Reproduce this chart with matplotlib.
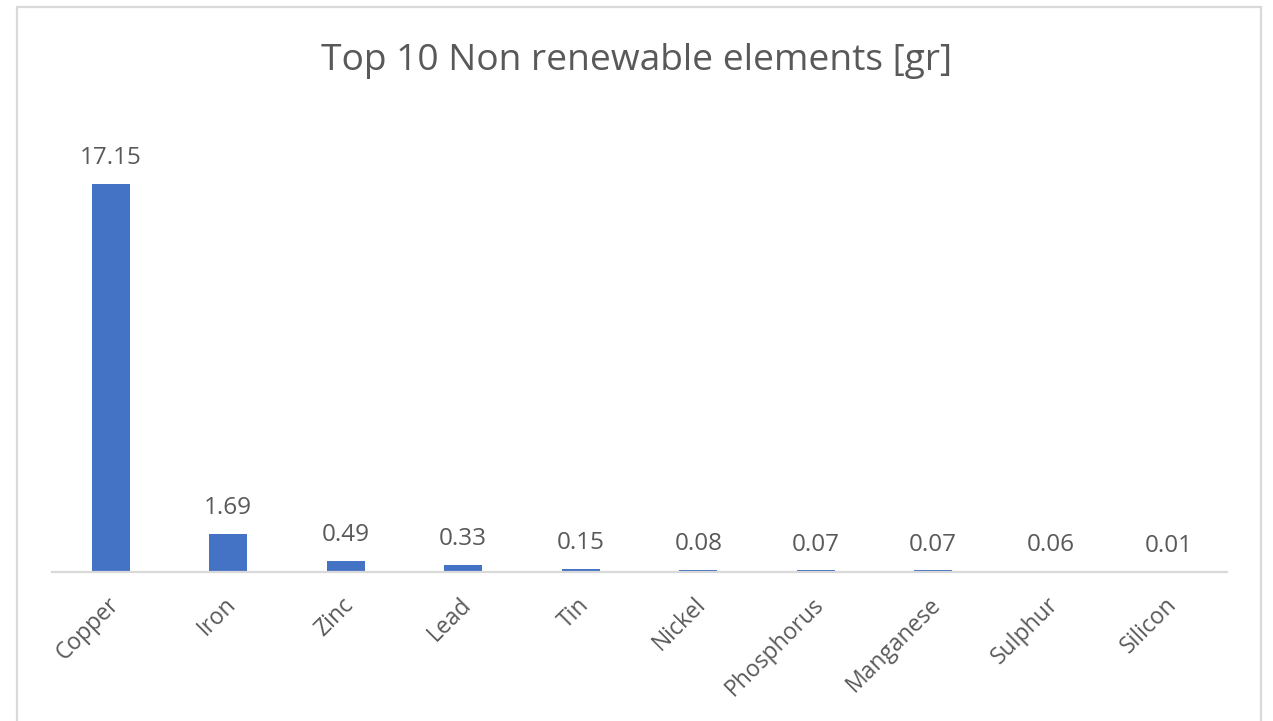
import matplotlib
matplotlib.use("Agg")
import matplotlib.pyplot as plt
from matplotlib.patches import Rectangle
from matplotlib.transforms import ScaledTranslation

elements = ["Copper", "Iron", "Zinc", "Lead", "Tin", "Nickel",
            "Phosphorus", "Manganese", "Sulphur", "Silicon"]
grams = [17.15, 1.69, 0.49, 0.33, 0.15, 0.08, 0.07, 0.07, 0.06, 0.01]

BAR = "#4472C4"
TEXT = "#595959"
GRID = "#D9D9D9"

plt.rcParams["font.family"] = ["Open Sans", "DejaVu Sans"]

fig = plt.figure(figsize=(12.73, 7.21), dpi=100)
W, H = 1273, 721

# chart frame (bottom edge falls outside the canvas)
fig.patches.append(Rectangle((17 / W, -0.05), (1261 - 17) / W, 1.05 - 7 / H,
                             transform=fig.transFigure, fill=False,
                             edgecolor=GRID, linewidth=1.6))

ymax = 20
px_per_unit = 22.62
ax = fig.add_axes([52 / W, 1 - 572 / H, (1227 - 52) / W, ymax * px_per_unit / H])

x = range(len(elements))
bars = ax.bar(x, grams, width=0.32, color=BAR, zorder=2)
ax.set_xlim(-0.5, len(elements) - 0.5)
ax.set_ylim(0, ymax)

for rect, v in zip(bars, grams):
    ax.annotate(f"{v:.2f}", (rect.get_x() + rect.get_width() / 2, v),
                xytext=(0, 10), textcoords="offset points",
                ha="center", va="bottom", fontsize=17.5, color=TEXT)

for s in ["top", "right", "left"]:
    ax.spines[s].set_visible(False)
ax.spines["bottom"].set_color(GRID)
ax.spines["bottom"].set_linewidth(1.6)
ax.set_yticks([])
ax.set_xticks(list(x))
ax.set_xticklabels(elements, rotation=45, ha="right", rotation_mode="anchor",
                   fontsize=16.5, color=TEXT)
ax.tick_params(axis="x", length=0, pad=15)
shift = ScaledTranslation(-4 / 100, 0, fig.dpi_scale_trans)
for lbl in ax.get_xticklabels():
    lbl.set_transform(lbl.get_transform() + shift)

fig.text(0.5, 1 - 61 / H, "Top 10 Non renewable elements [gr]",
         ha="center", va="center", fontsize=26.7, color=TEXT)

fig.savefig("out.png", dpi=100, facecolor="white")
